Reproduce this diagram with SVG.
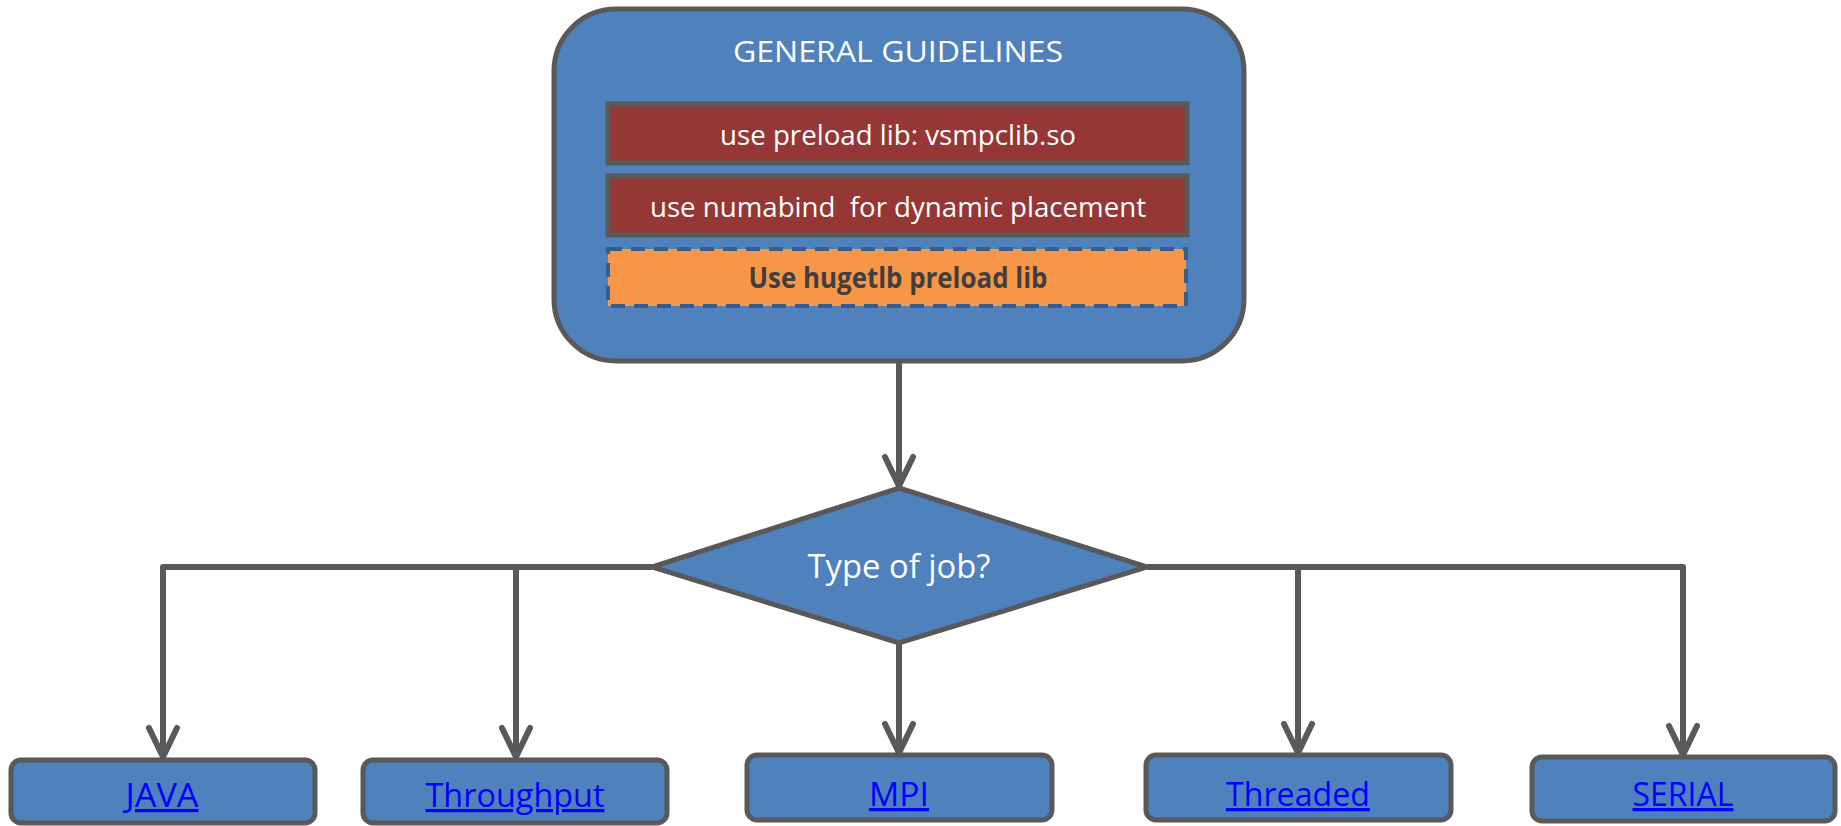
<svg xmlns="http://www.w3.org/2000/svg" width="1841" height="826" viewBox="0 0 1841 826">
<style>
.blue{fill:#4f81bd;stroke:#595959;stroke-width:5}
.red{fill:#953735;stroke:#595959;stroke-width:5}
.orange{fill:#f79646;stroke:#385d8a;stroke-width:4;stroke-dasharray:14 9}
.conn{fill:none;stroke:#595959;stroke-width:6;stroke-linejoin:round;marker-end:url(#arr)}
.t{font-family:"Open Sans","Noto Sans",sans-serif;fill:#ffffff;text-anchor:middle}
.b{font-family:"Open Sans","Noto Sans",sans-serif;font-weight:bold;fill:#3f3f3f;text-anchor:middle}
.link{font-family:"Open Sans","Noto Sans",sans-serif;fill:#0000ff;text-anchor:middle;text-decoration:underline}
</style>
<defs>
<marker id="arr" markerUnits="userSpaceOnUse" viewBox="-34 -20 40 40" markerWidth="40" markerHeight="40" refX="0" refY="0" orient="auto" overflow="visible">
<path d="M-29,-14 L0,0 L-29,14" fill="none" stroke="#595959" stroke-width="6" stroke-linecap="round" stroke-linejoin="round"/>
</marker>
</defs>
<rect width="1841" height="826" fill="#ffffff"/>
<g id="connectors">
<path class="conn" d="M899,362 V486"/>
<path class="conn" d="M652,567 H163 V757"/>
<path class="conn" d="M516,567 V757"/>
<path class="conn" d="M899,643 V753"/>
<path class="conn" d="M1147,567 H1683 V755"/>
<path class="conn" d="M1298,567 V753"/>
</g>
<g id="guidelines">
<rect class="blue" x="554" y="9" width="690" height="352" rx="62"/>
<text class="t" x="898" y="62" font-size="30" textLength="330" lengthAdjust="spacingAndGlyphs">GENERAL GUIDELINES</text>
</g>
<g id="preload">
<rect class="red" x="608" y="104" width="579" height="59"/>
<text class="t" x="898" y="145" font-size="28" textLength="356" lengthAdjust="spacingAndGlyphs">use preload lib: vsmpclib.so</text>
</g>
<g id="numabind">
<rect class="red" x="608" y="176" width="579" height="59"/>
<text class="t" x="898" y="217" font-size="28" textLength="496" lengthAdjust="spacingAndGlyphs" xml:space="preserve">use numabind  for dynamic placement</text>
</g>
<g id="hugetlb">
<rect class="orange" x="608" y="249" width="578" height="57"/>
<text class="b" x="898" y="288" font-size="28" textLength="299" lengthAdjust="spacingAndGlyphs">Use hugetlb preload lib</text>
</g>
<g id="decision">
<polygon class="blue" points="899,488 1147,567 899,643 652,567"/>
<text class="t" x="899" y="578" font-size="32" textLength="183" lengthAdjust="spacingAndGlyphs">Type of job?</text>
</g>
<g id="java">
<rect class="blue" x="11" y="760" width="304" height="63" rx="10"/>
<text class="link" x="162" y="807" font-size="32" textLength="73" lengthAdjust="spacingAndGlyphs">JAVA</text>
</g>
<g id="throughput">
<rect class="blue" x="363" y="760" width="304" height="63" rx="10"/>
<text class="link" x="515" y="807" font-size="32" textLength="179" lengthAdjust="spacingAndGlyphs">Throughput</text>
</g>
<g id="mpi">
<rect class="blue" x="747" y="755" width="305" height="65" rx="10"/>
<text class="link" x="899" y="806" font-size="32" textLength="60" lengthAdjust="spacingAndGlyphs">MPI</text>
</g>
<g id="threaded">
<rect class="blue" x="1146" y="755" width="305" height="65" rx="10"/>
<text class="link" x="1298" y="806" font-size="32" textLength="144" lengthAdjust="spacingAndGlyphs">Threaded</text>
</g>
<g id="serial">
<rect class="blue" x="1532" y="757" width="303" height="64" rx="10"/>
<text class="link" x="1683" y="806" font-size="32" textLength="101" lengthAdjust="spacingAndGlyphs">SERIAL</text>
</g>
</svg>
